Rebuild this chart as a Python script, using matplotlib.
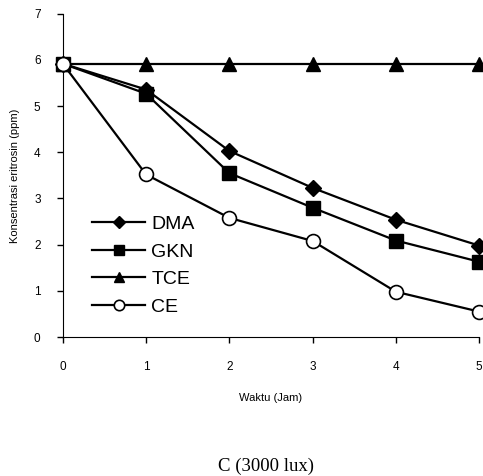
import matplotlib
matplotlib.use("Agg")
from matplotlib import pyplot as plt

waktu = [0, 1, 2, 3, 4, 5]
dma = [5.92, 5.36, 4.03, 3.23, 2.54, 1.98]
gkn = [5.92, 5.27, 3.55, 2.80, 2.09, 1.63]
tce = [5.92, 5.92, 5.92, 5.92, 5.92, 5.92]
ce = [5.92, 3.52, 2.58, 2.08, 0.98, 0.55]

plt.rcParams["font.family"] = ["Liberation Sans", "DejaVu Sans"]

fig = plt.figure(figsize=(4.83, 4.76), dpi=100)
ax = fig.add_axes([0.130, 0.292, 0.862, 0.679])

kw = dict(color="black", lw=1.6, clip_on=False, zorder=3)
ax.plot(waktu, dma, marker="D", ms=8, mfc="black", label="DMA", **kw)
ax.plot(waktu, gkn, marker="s", ms=10, mfc="black", label="GKN", **kw)
ax.plot(waktu, tce, marker="^", ms=10.5, mfc="black", label="TCE", **kw)
ax.plot(waktu, ce, marker="o", ms=10, mfc="white", mew=1.2, label="CE", **kw)

ax.set_xlim(0, 5)
ax.set_ylim(0, 7)
ax.set_xticks(range(6))
ax.set_yticks(range(8))
ax.spines["top"].set_visible(False)
ax.spines["right"].set_visible(False)
ax.tick_params(direction="out", length=4, width=1, labelsize=8.5)
ax.tick_params(axis="x", pad=13)
ax.tick_params(axis="y", pad=12)

ax.set_xlabel("Waktu (Jam)", fontsize=8, labelpad=15)
ax.set_ylabel("Konsentrasi eritrosin (ppm)", fontsize=8, labelpad=10)

ax.legend(loc="lower left", bbox_to_anchor=(0.07, 0.065), frameon=False,
          fontsize=14, handlelength=2.75, handletextpad=0.3, labelspacing=0.52,
          borderaxespad=0, borderpad=0, markerscale=0.75)

fig.text(0.55, 0.003, "C (3000 lux)", fontsize=13.5, family="Liberation Serif",
         ha="center", va="bottom")

fig.savefig("out.png", dpi=100)
